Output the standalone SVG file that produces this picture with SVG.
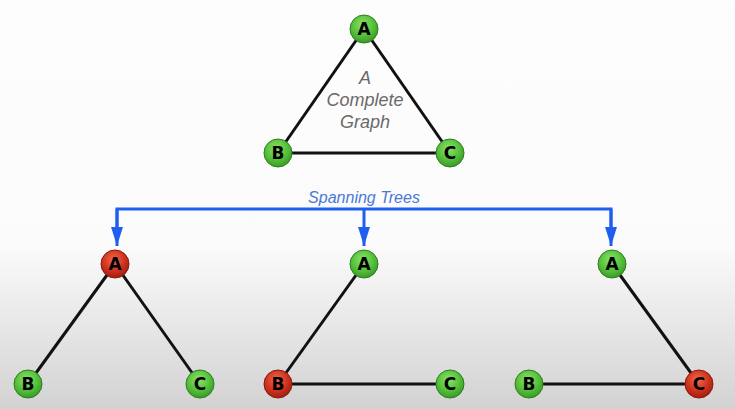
<svg xmlns="http://www.w3.org/2000/svg" width="735" height="409" viewBox="0 0 735 409">
<defs>
<linearGradient id="bg" x1="0" y1="0" x2="0" y2="1">
<stop offset="0" stop-color="#fdfdfd"/>
<stop offset="0.6" stop-color="#fbfbfb"/>
<stop offset="1" stop-color="#d2d2d2"/>
</linearGradient>
<radialGradient id="g" cx="0.45" cy="0.35" r="0.65">
<stop offset="0" stop-color="#8ee36a"/>
<stop offset="0.6" stop-color="#55c03a"/>
<stop offset="1" stop-color="#3a9a28"/>
</radialGradient>
<radialGradient id="r" cx="0.45" cy="0.35" r="0.65">
<stop offset="0" stop-color="#f06a4e"/>
<stop offset="0.6" stop-color="#d0321e"/>
<stop offset="1" stop-color="#a01e12"/>
</radialGradient>
<marker id="arr" viewBox="0 0 16 10" refX="16" refY="5" markerWidth="6.4" markerHeight="4" orient="auto" markerUnits="strokeWidth">
<path d="M0,0 L16,5 L0,10 z" fill="#1f5ff0"/>
</marker>
<style>
.e{stroke:#111;stroke-width:3;fill:none}
.n circle{stroke:#2e7d1f;stroke-width:1}
.rd circle{stroke:#8a1a10;stroke-width:1}
.n text,.rd text{font-family:"DejaVu Sans","Liberation Sans",sans-serif;font-weight:bold;font-size:17px;fill:#000;text-anchor:middle}
.lbl{font-family:"Liberation Sans","DejaVu Sans",sans-serif;font-style:italic;font-size:18px;fill:#6a6a6a;text-anchor:middle}
.blue{stroke:#1f5ff0;stroke-width:3;fill:none}
</style>
</defs>
<rect width="735" height="409" fill="url(#bg)"/>
<g id="connectors">
<line class="e" x1="364" y1="29" x2="278" y2="153"/>
<line class="e" x1="364" y1="29" x2="450" y2="153"/>
<line class="e" x1="278" y1="153" x2="450" y2="153"/>
<line class="e" x1="115" y1="264" x2="28" y2="384"/>
<line class="e" x1="115" y1="264" x2="200" y2="384"/>
<line class="e" x1="364" y1="264" x2="278" y2="384"/>
<line class="e" x1="278" y1="384" x2="450" y2="384"/>
<line class="e" x1="612" y1="264" x2="699" y2="384"/>
<line class="e" x1="529" y1="384" x2="699" y2="384"/>
<polyline class="blue" points="117,240 117,209 611,209 611,240"/>
<path class="blue" d="M611,209 L611,246" marker-end="url(#arr)"/>
<path class="blue" d="M117,209 L117,246" marker-end="url(#arr)"/>
<path class="blue" d="M364,209 L364,246" marker-end="url(#arr)"/>
</g>
<g id="label-complete">
<text class="lbl" x="365" y="84">A</text>
<text class="lbl" x="365" y="106">Complete</text>
<text class="lbl" x="365" y="128">Graph</text>
</g>
<g id="label-spanning">
<text class="lbl" x="364" y="203" style="fill:#4a78d8;font-size:16px">Spanning Trees</text>
</g>
<g id="top-A" class="n"><circle cx="364" cy="29" r="14" fill="url(#g)"/><text x="364" y="35">A</text></g>
<g id="top-B" class="n"><circle cx="278" cy="153" r="14" fill="url(#g)"/><text x="278" y="159">B</text></g>
<g id="top-C" class="n"><circle cx="450" cy="153" r="14" fill="url(#g)"/><text x="450" y="159">C</text></g>
<g id="t1-A" class="rd"><circle cx="115" cy="264" r="14" fill="url(#r)"/><text x="115" y="270">A</text></g>
<g id="t1-B" class="n"><circle cx="28" cy="384" r="14" fill="url(#g)"/><text x="28" y="390">B</text></g>
<g id="t1-C" class="n"><circle cx="200" cy="384" r="14" fill="url(#g)"/><text x="200" y="390">C</text></g>
<g id="t2-A" class="n"><circle cx="364" cy="264" r="14" fill="url(#g)"/><text x="364" y="270">A</text></g>
<g id="t2-B" class="rd"><circle cx="278" cy="384" r="14" fill="url(#r)"/><text x="278" y="390">B</text></g>
<g id="t2-C" class="n"><circle cx="450" cy="384" r="14" fill="url(#g)"/><text x="450" y="390">C</text></g>
<g id="t3-A" class="n"><circle cx="612" cy="264" r="14" fill="url(#g)"/><text x="612" y="270">A</text></g>
<g id="t3-B" class="n"><circle cx="529" cy="384" r="14" fill="url(#g)"/><text x="529" y="390">B</text></g>
<g id="t3-C" class="rd"><circle cx="699" cy="384" r="14" fill="url(#r)"/><text x="699" y="390">C</text></g>
</svg>
